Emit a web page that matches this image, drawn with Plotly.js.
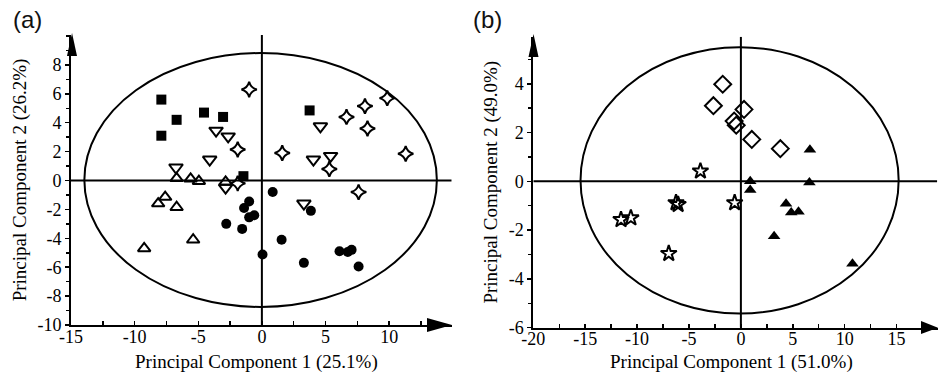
<!DOCTYPE html>
<html>
<head>
<meta charset="utf-8">
<script src="https://cdn.plot.ly/plotly-3.0.1.min.js"></script>
<style>html,body{margin:0;padding:0;background:#fff;}#chart{width:938px;height:377px;}</style>
</head>
<body>
<div id="chart"></div>
<script>
// ---- Panel (a) data ----
const sqX = [-7.9, -6.7, -4.55, -3.05, -7.9, 3.75, -1.45];
const sqY = [5.6, 4.2, 4.7, 4.4, 3.1, 4.85, 0.3];
const dtX = [-3.6, -2.65, -4.1, -6.75, -2.85, 4.6, 4.05, 5.4, 3.3];
const dtY = [3.45, 3.05, 1.45, 0.9, -0.5, 3.75, 1.45, 1.7, -1.6];
const st4X = [-1.0, -1.9, 1.6, 6.65, 8.1, 9.85, 8.3, 11.3, 5.3, 7.6, -1.9];
const st4Y = [6.3, 2.15, 1.9, 4.4, 5.15, 5.7, 3.6, 1.85, 0.8, -0.8, -0.2];
const utX = [-6.7, -5.6, -4.95, -2.85, -7.6, -8.15, -6.7, -5.4, -9.25];
const utY = [0.15, 0.12, -0.05, -0.1, -1.15, -1.6, -1.85, -4.1, -4.7];
const ciX = [0.85, -1.0, -1.4, -1.0, -0.6, -2.8, -1.55, 3.85, 1.55, 0.05, 3.3, 6.1, 6.75, 7.05, 7.6];
const ciY = [-0.8, -1.45, -1.9, -2.55, -2.4, -3.0, -3.35, -2.1, -4.1, -5.12, -5.7, -4.9, -4.95, -4.8, -5.95];

// ---- Panel (b) data ----
const dmX = [-1.75, -2.65, 0.3, -0.65, -0.45, 1.05, 3.8];
const dmY = [3.98, 3.1, 2.95, 2.47, 2.3, 1.72, 1.34];
const st5X = [-3.9, -6.25, -6.05, -0.6, -11.55, -10.6, -6.95];
const st5Y = [0.42, -0.88, -0.95, -0.88, -1.57, -1.5, -2.96];
const ftX = [6.65, 0.9, 0.9, 6.6, 4.35, 4.85, 5.55, 3.2, 10.75];
const ftY = [1.3, 0.0, -0.35, -0.05, -0.92, -1.28, -1.25, -2.25, -3.38];

// ---- Tick labels / titles ----
const xTicksA = [-15, -10, -5, 0, 5, 10];
const yTicksA = [-10, -8, -6, -4, -2, 0, 2, 4, 6, 8];
const xTicksB = [-20, -15, -10, -5, 0, 5, 10, 15];
const yTicksB = [-6, -4, -2, 0, 2, 4];
const xTitleA = 'Principal Component 1 (25.1%)';
const yTitleA = 'Principal Component 2 (26.2%)';
const xTitleB = 'Principal Component 1 (51.0%)';
const yTitleB = 'Principal Component 2 (49.0%)';

const K = '#000';
function mk(x, y, xa, ya, symbol, size, filled) {
  return {
    type: 'scatter', mode: 'markers', x: x, y: y, xaxis: xa, yaxis: ya,
    showlegend: false, hoverinfo: 'skip', cliponaxis: false,
    marker: { symbol: symbol, size: size, color: K,
      line: { color: K, width: filled ? 0 : 2 } }
  };
}

const data = [
  mk(sqX, sqY, 'x', 'y', 'square', 10, true),
  mk(ciX, ciY, 'x', 'y', 'circle', 10, true),
  mk(utX, utY, 'x', 'y', 'triangle-up-open', 11, false),
  mk(dtX, dtY, 'x', 'y', 'triangle-down-open', 12, false),
  mk(st4X, st4Y, 'x', 'y', 'star-diamond-open', 11, false),
  mk(dmX, dmY, 'x2', 'y2', 'diamond-open', 13, false),
  mk(st5X, st5Y, 'x2', 'y2', 'star-open', 12, false),
  mk(ftX, ftY, 'x2', 'y2', 'triangle-up', 11, true)
];

const SERIF = 'Liberation Serif';
const tickFont = { family: SERIF, size: 18, color: '#000' };
const titleFont = { family: SERIF, size: 19, color: '#000' };

function lbl(v) { return v.map(function (t) { return String(t); }); }

function xax(domain, range, ticks, anchor) {
  return {
    domain: domain, range: range, anchor: anchor, tickmode: 'array', tickvals: ticks, ticktext: lbl(ticks),
    showline: true, linecolor: K, linewidth: 2, mirror: false,
    ticks: 'inside', ticklen: 4, tickwidth: 1.5, tickcolor: K, ticklabelstandoff: -6,
    minor: { dtick: 2.5, tick0: 0, ticks: 'inside', ticklen: 4, tickwidth: 1.5, tickcolor: K, showgrid: false },
    showgrid: false, zeroline: false, tickfont: Object.assign({}, tickFont), fixedrange: true
  };
}
function yax(domain, range, ticks, title, anchor) {
  return {
    domain: domain, range: range, anchor: anchor, tickmode: 'array', tickvals: ticks, ticktext: lbl(ticks),
    showline: true, linecolor: K, linewidth: 2, mirror: false,
    ticks: 'outside', ticklen: 4, tickwidth: 1.5, tickcolor: K,
    minor: { dtick: 1, tick0: 0, ticks: 'outside', ticklen: 3, tickwidth: 1.5, tickcolor: K, showgrid: false },
    showgrid: false, zeroline: false, tickfont: Object.assign({}, tickFont),
    title: { text: title, font: Object.assign({}, titleFont), standoff: 6 }, fixedrange: true
  };
}

const W = 938, H = 377;
function P(px, py) { return (px / W).toFixed(4) + ',' + (1 - py / H).toFixed(4); }

const shapes = [
  { type: 'circle', xref: 'x', yref: 'y', x0: -13.95, x1: 13.75, y0: -8.75, y1: 8.82, line: { color: K, width: 2 } },
  { type: 'circle', xref: 'x2', yref: 'y2', x0: -15.45, x1: 15.2, y0: -5.42, y1: 5.5, line: { color: K, width: 2 } },
  { type: 'line', xref: 'x', yref: 'y', x0: 0, x1: 0, y0: -10, y1: 10.07, line: { color: K, width: 2 } },
  { type: 'line', xref: 'x', yref: 'y', x0: -15, x1: 14.9, y0: 0, y1: 0, line: { color: K, width: 2 } },
  { type: 'line', xref: 'x2', yref: 'y2', x0: 0, x1: 0, y0: -6, y1: 5.93, line: { color: K, width: 2 } },
  { type: 'line', xref: 'x2', yref: 'y2', x0: -20, x1: 18.9, y0: 0, y1: 0, line: { color: K, width: 2 } },
  { type: 'path', xref: 'paper', yref: 'paper', path: 'M' + P(452, 325) + 'L' + P(427, 318) + 'L' + P(427, 332) + 'Z', fillcolor: K, line: { width: 0 } },
  { type: 'path', xref: 'paper', yref: 'paper', path: 'M' + P(72, 33) + 'L' + P(67, 56) + 'L' + P(77, 56) + 'Z', fillcolor: K, line: { width: 0 } },
  { type: 'path', xref: 'paper', yref: 'paper', path: 'M' + P(938, 327.7) + 'L' + P(921, 321) + 'L' + P(921, 334) + 'Z', fillcolor: K, line: { width: 0 } },
  { type: 'path', xref: 'paper', yref: 'paper', path: 'M' + P(533.5, 34) + 'L' + P(528.5, 57) + 'L' + P(538.5, 57) + 'Z', fillcolor: K, line: { width: 0 } }
];

function txt(t, px, py, font, xa) {
  return { text: t, xref: 'paper', yref: 'paper', x: px / W, y: 1 - py / H, xanchor: xa || 'center', yanchor: 'middle',
    showarrow: false, font: font };
}
const labelFont = { family: 'Liberation Sans', size: 24, color: '#111' };

const layout = {
  width: W, height: H, margin: { l: 0, r: 0, t: 0, b: 0 },
  paper_bgcolor: '#fff', plot_bgcolor: 'rgba(0,0,0,0)', showlegend: false,
  xaxis: xax([71 / W, 452 / W], [-15, 14.94], xTicksA, 'y'),
  yaxis: yax([1 - 325 / H, 1 - 35 / H], [-10, 10.07], yTicksA, yTitleA, 'x'),
  xaxis2: xax([533.3 / W, 1], [-20, 18.99], xTicksB, 'y2'),
  yaxis2: yax([1 - 327.7 / H, 1 - 36.7 / H], [-6, 5.93], yTicksB, yTitleB, 'x2'),
  shapes: shapes,
  annotations: [
    txt(xTitleA, 256, 362, titleFont),
    txt(xTitleB, 731, 362, titleFont),
    txt('(a)', 11, 20, labelFont, 'left'),
    txt('(b)', 471, 20, labelFont, 'left')
  ]
};

Plotly.newPlot('chart', data, layout, { staticPlot: true, displayModeBar: false });
</script>
</body>
</html>
